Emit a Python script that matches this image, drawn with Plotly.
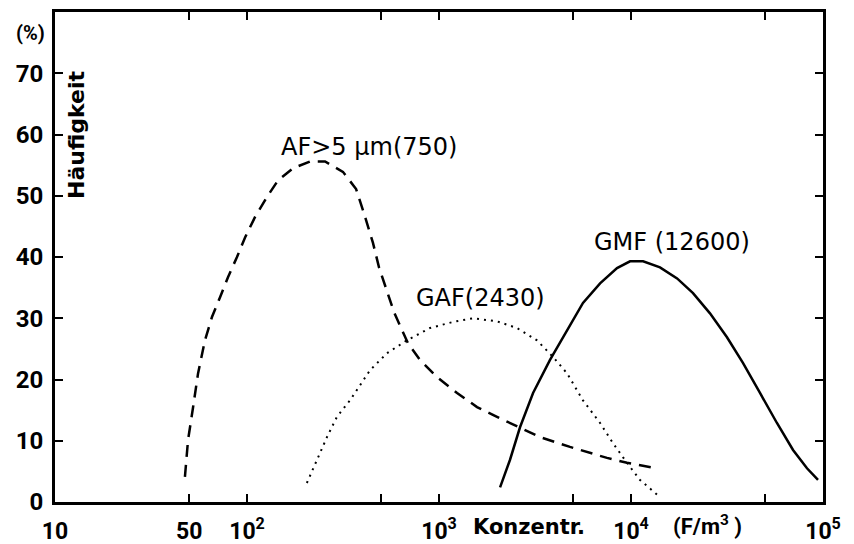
import math
import plotly.graph_objects as go

# AF > 5 µm (750) - dashed
af_x = [47.5, 49.3, 52.4, 55.6, 60.4, 65.7, 72.3, 79.6, 88.7, 97.7, 110, 127, 145, 174, 213, 255,
        316, 370, 407, 453, 487, 536, 583, 641, 690, 796, 977, 1242, 1578, 2005, 2642, 3357, 4810,
        7499, 9531, 13650]
af_y = [4.1, 10.1, 15.5, 21.0, 26.4, 30.2, 33.4, 36.7, 40.0, 43.2, 46.5, 49.8, 52.5, 54.5, 55.6, 55.6,
        53.9, 51.1, 47.1, 42.3, 38.3, 34.6, 31.0, 28.1, 25.9, 23.2, 20.4, 17.8, 15.5, 13.9, 12.1, 10.6, 9.0,
        7.2, 6.4, 5.5]

# GAF (2430) - dotted
gaf_x = [205, 232, 261, 294, 344, 437, 536, 681, 897, 1183, 1503, 2005, 2547, 3236, 3924, 4645,
         5623, 6902, 8058, 9531, 11140, 14160]
gaf_y = [3.1, 6.9, 10.6, 13.9, 16.6, 21.5, 24.3, 26.4, 28.4, 29.4, 30.0, 29.5, 28.4, 26.4, 23.7, 21.0,
         16.6, 12.9, 9.6, 6.4, 3.6, 0.8]

# GMF (12600) - solid
gmf_x = [2080, 2344, 2642, 3090, 3786, 4645, 5623, 6902, 8458, 9886, 11560, 14160, 17380, 21040,
         25780, 31620, 38280, 46970, 57550, 69820, 82540, 94200]
gmf_y = [2.4, 6.9, 12.2, 17.8, 23.2, 28.1, 32.5, 35.7, 38.2, 39.3, 39.3, 38.3, 36.5, 34.1,
         30.8, 26.9, 22.7, 17.8, 12.9, 8.5, 5.5, 3.6]

x_tickvals = [10, 50, 100, 500, 1000, 5000, 10000, 50000, 100000]
x_ticktext = ["10", "50", "10<sup>2</sup>", "", "10<sup>3</sup>", "", "10<sup>4</sup>", "", "10<sup>5</sup>"]
y_tickvals = [0, 10, 20, 30, 40, 50, 60, 70]

labels = [
    ("AF&gt;5 µm(750)", 431, 57.9),
    ("GAF(2430)", 1636, 33.3),
    ("GMF (12600)", 16370, 42.4),
]

TICKF = "Roboto, DejaVu Sans, sans-serif"
REG = "DejaVu Sans, Liberation Sans, sans-serif"

fig = go.Figure()
fig.add_trace(go.Scatter(x=af_x, y=af_y, mode="lines",
                         line=dict(color="black", width=2.5, dash="12px,8px")))
fig.add_trace(go.Scatter(x=gaf_x, y=gaf_y, mode="lines",
                         line=dict(color="black", width=2, dash="2px,5px")))
fig.add_trace(go.Scatter(x=gmf_x, y=gmf_y, mode="lines",
                         line=dict(color="black", width=2.5)))

for txt, x, y in labels:
    fig.add_annotation(x=math.log10(x), y=y, xref="x", yref="y", text=txt, showarrow=False,
                       font=dict(family=REG, size=24, color="black"))

fig.add_annotation(x=(47 - 55) / 768, y=(502 - 33) / 490, xref="paper", yref="paper",
                   xanchor="right", yanchor="middle", text="<b>(%)</b>", showarrow=False,
                   font=dict(family=TICKF, size=20, color="black"))
fig.add_annotation(x=(76 - 55) / 768, y=(502 - 135) / 490, xref="paper", yref="paper",
                   xanchor="center", yanchor="middle", text="<b>Häufigkeit</b>", showarrow=False,
                   textangle=-90, font=dict(family=REG, size=22, color="black"))
fig.add_annotation(x=(529 - 55) / 768, y=(502 - 527) / 490, xref="paper", yref="paper",
                   xanchor="center", yanchor="middle",
                   text="<b>Konzentr.</b>", showarrow=False,
                   font=dict(family=REG, size=21, color="black"))
fig.add_annotation(x=(707 - 55) / 768, y=(502 - 525) / 490, xref="paper", yref="paper",
                   xanchor="center", yanchor="middle",
                   text="(F/m<sup>3</sup> )", showarrow=False,
                   font=dict(family=TICKF, size=22, color="black", weight="bold"))

fig.update_xaxes(type="log", range=[1, 5], tickvals=x_tickvals, ticktext=x_ticktext,
                 ticks="inside", ticklen=8, tickwidth=2, tickcolor="black",
                 showline=True, linecolor="black", linewidth=3, mirror="allticks",
                 showgrid=False, zeroline=False, ticklabelstandoff=6, automargin=False,
                 tickfont=dict(family=TICKF, size=23, color="black", weight="bold"))
fig.update_yaxes(range=[0, 80], tickvals=y_tickvals,
                 ticks="inside", ticklen=8, tickwidth=2, tickcolor="black",
                 showline=True, linecolor="black", linewidth=3, mirror="allticks",
                 showgrid=False, zeroline=False, ticklabelstandoff=4, automargin=False,
                 tickfont=dict(family=TICKF, size=24, color="black", weight="bold"))

fig.update_layout(width=854, height=544, margin=dict(l=55, r=31, t=12, b=42),
                  plot_bgcolor="white", paper_bgcolor="white", showlegend=False)

fig.write_html("out.html")
